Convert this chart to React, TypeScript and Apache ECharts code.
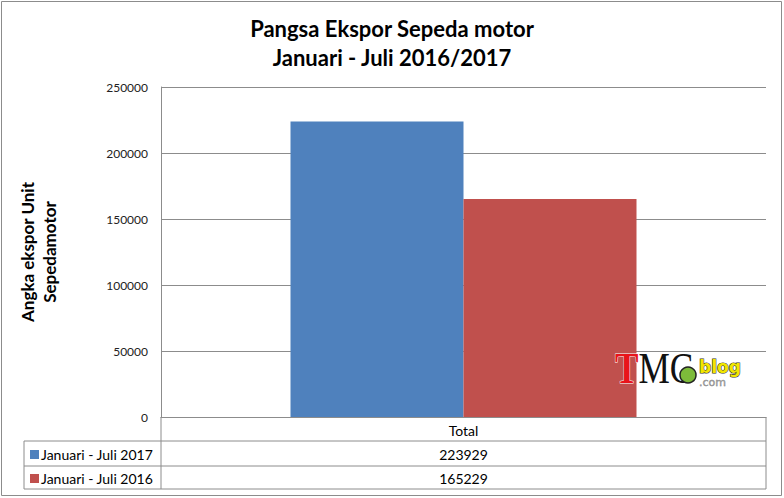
import React, { useEffect, useRef } from "react";
import * as echarts from "echarts";

const categories = ["Total"];
const seriesNames = ["Januari - Juli 2017", "Januari - Juli 2016"];
const values2017 = [223929];
const values2016 = [165229];
const yTicks = { min: 0, max: 250000, interval: 50000 };
const colors = ["#4F81BD", "#C0504D"];

const FONT = "Lato, 'Open Sans', sans-serif";

export default function App() {
  const ref = useRef<HTMLDivElement>(null);
  useEffect(() => {
    if (!ref.current) return;
    const chart = echarts.init(ref.current, null, { renderer: "svg" });
    const L = 161, R = 766, T = 87, B = 417;
    const tableLeft = 24;
    const rows = [441, 466, 489];
    const gray = "#8C8C8C";
    const cx = (L + R) / 2;
    const seriesValues = [values2017, values2016];

    const graphics: any[] = [
      { type: "rect", shape: { x: 1.5, y: 1.5, width: 780, height: 494 }, style: { fill: "none", stroke: "#8C8C8C", lineWidth: 1 }, z: 0 },
      { type: "line", shape: { x1: L, y1: B, x2: L, y2: rows[2] }, style: { stroke: gray, lineWidth: 1 } },
      { type: "line", shape: { x1: R, y1: B, x2: R, y2: rows[2] }, style: { stroke: gray, lineWidth: 1 } },
      { type: "line", shape: { x1: tableLeft, y1: rows[0], x2: tableLeft, y2: rows[2] }, style: { stroke: gray, lineWidth: 1 } },
      ...rows.map((y) => ({ type: "line", shape: { x1: tableLeft, y1: y, x2: R, y2: y }, style: { stroke: gray, lineWidth: 1 } })),
      { type: "text", x: cx, y: (B + rows[0]) / 2 + 1, style: { text: categories[0], font: `14px ${FONT}`, fill: "#000", align: "center", verticalAlign: "middle" } },
    ];
    seriesNames.forEach((name, i) => {
      const yc = (rows[i] + rows[i + 1]) / 2 + 1;
      graphics.push(
        { type: "rect", shape: { x: 30, y: yc - 4.5, width: 9, height: 9 }, style: { fill: colors[i] } },
        { type: "text", x: 41, y: yc, style: { text: name, font: `14px ${FONT}`, fill: "#000", align: "left", verticalAlign: "middle" } },
        { type: "text", x: cx, y: yc, style: { text: String(seriesValues[i][0]), font: `14px ${FONT}`, fill: "#000", align: "center", verticalAlign: "middle" } }
      );
    });
    // logo
    graphics.push(
      {
        type: "text", x: 615, y: 390, z: 10, scaleX: 0.8,
        style: {
          text: "{t|T}{mc|MC}",
          align: "left", verticalAlign: "bottom",
          rich: {
            t: { font: `bold 44px 'Liberation Serif', serif`, fill: "#E8141B", stroke: "#fff", lineWidth: 1 },
            mc: { font: `44px 'Liberation Serif', serif`, fill: "#111" },
          },
        },
      },
      { type: "circle", shape: { cx: 688, cy: 375, r: 8 }, z: 11, style: { fill: "#7DBB3A", stroke: "#222", lineWidth: 1.5 } },
      {
        type: "text", x: 699, y: 357, z: 10,
        style: {
          text: "{b|blog}\n{c|.com}",
          align: "left", verticalAlign: "top",
          rich: {
            b: { font: `bold 17px 'DejaVu Sans', sans-serif`, fill: "#F2E600", stroke: "#333", lineWidth: 1.2, lineHeight: 20 },
            c: { font: `11px 'DejaVu Sans', sans-serif`, fill: "#999", stroke: "#555", lineWidth: 0.3, lineHeight: 11 },
          },
        },
      }
    );

    chart.setOption({
      animation: false,
      backgroundColor: "#fff",
      title: {
        text: "Pangsa Ekspor Sepeda motor\nJanuari - Juli 2016/2017",
        left: "center",
        top: 9,
        textStyle: { fontFamily: FONT, fontSize: 22, fontWeight: "bold", color: "#000", lineHeight: 29 },
      },
      grid: { left: L, right: 784 - R, top: T, bottom: 498 - B, outerBoundsMode: "none", containLabel: false },
      xAxis: {
        type: "category",
        data: categories,
        axisLine: { lineStyle: { color: gray } },
        axisTick: { show: false },
        axisLabel: { show: false },
      },
      yAxis: {
        type: "value",
        min: yTicks.min,
        max: yTicks.max,
        interval: yTicks.interval,
        name: "Angka ekspor Unit\nSepedamotor",
        nameLocation: "middle",
        nameRotate: 90,
        nameGap: 101,
        nameTextStyle: { fontFamily: FONT, fontSize: 17, fontWeight: "bold", color: "#000", lineHeight: 22 },
        axisLine: { show: true, lineStyle: { color: gray } },
        axisTick: { show: false },
        axisLabel: { fontFamily: FONT, fontSize: 12, color: "#222", margin: 13, formatter: (v: number) => String(v) },
        splitLine: { lineStyle: { color: gray } },
      },
      series: [
        { name: seriesNames[0], type: "bar", data: values2017, barWidth: 173, barGap: "0%", itemStyle: { color: colors[0] } },
        { name: seriesNames[1], type: "bar", data: values2016, barWidth: 173, barGap: "0%", itemStyle: { color: colors[1] } },
      ],
      graphic: graphics,
    });
    return () => chart.dispose();
  }, []);
  return <div ref={ref} style={{ width: 784, height: 498, position: "absolute", left: 0, top: 0 }} />;
}
